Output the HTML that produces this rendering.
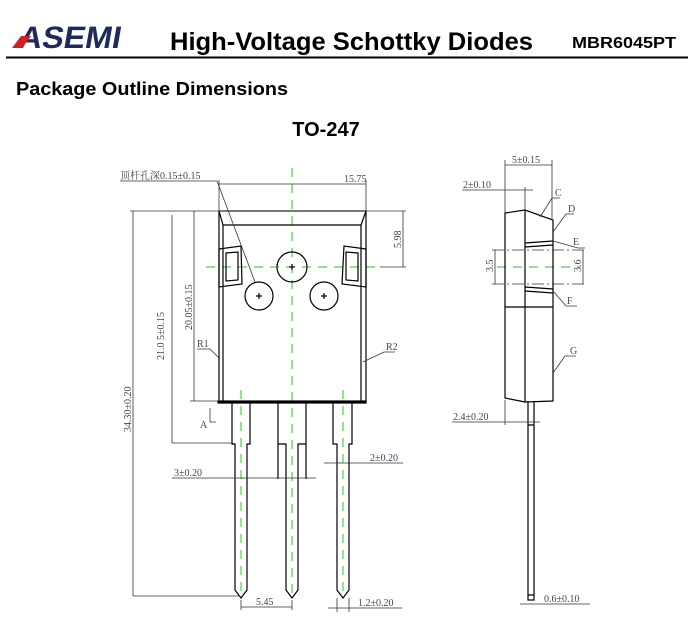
<!DOCTYPE html>
<html><head><meta charset="utf-8"><style>
body{margin:0;background:#fff;width:700px;height:642px;overflow:hidden}
svg{display:block}
.h{font-family:"Liberation Sans",Arial,sans-serif;font-weight:bold;fill:#000}
.t{font-family:"Liberation Serif","Noto Serif CJK SC",serif;font-size:10px;fill:#445}
.k{stroke:#000;stroke-width:1.2;fill:none}
.d{stroke:#333;stroke-width:0.8;fill:none}
.g{stroke:#2c2;stroke-width:1;stroke-dasharray:9 7;fill:none}
</style></head><body>
<svg width="700" height="642" viewBox="0 0 700 642" xmlns="http://www.w3.org/2000/svg">
<!-- logo -->
<text x="18" y="48" class="h" font-size="31" style="fill:#1d2b5c" textLength="102" lengthAdjust="spacingAndGlyphs" transform="skewX(-10) translate(8,0)">ASEMI</text>
<polygon points="12,48 22,48 31,36 21,36" fill="#c22"/>
<text x="170" y="50" class="h" font-size="25" textLength="363" lengthAdjust="spacingAndGlyphs">High-Voltage Schottky Diodes</text>
<text x="572" y="48" class="h" font-size="16" textLength="104" lengthAdjust="spacingAndGlyphs">MBR6045PT</text>
<rect x="6" y="56.5" width="682" height="2" fill="#000"/>
<text x="16" y="95" class="h" font-size="18" textLength="272" lengthAdjust="spacingAndGlyphs">Package Outline Dimensions</text>
<text x="326" y="136" class="h" font-size="20" text-anchor="middle">TO-247</text>

<!-- front view green -->
<line class="g" x1="292" y1="168" x2="292" y2="600"/>
<line class="g" x1="206" y1="267" x2="382" y2="267"/>
<line class="g" x1="241" y1="390" x2="241" y2="596"/>
<line class="g" x1="343" y1="390" x2="343" y2="596"/>

<!-- body -->
<rect class="k" x="219" y="211" width="147" height="191"/>
<polyline class="k" points="219,211 223,225 223,401"/>
<polyline class="k" points="366,211 361,225 361,401"/>
<line class="k" x1="223" y1="225" x2="361" y2="225"/>
<polygon class="k" points="219,249 241,246 242,284 219,287" fill="#fff"/>
<polygon class="k" points="226,253 238,252 238,280 226,281"/>
<polygon class="k" points="366,249 344,246 342,284 366,287" fill="#fff"/>
<polygon class="k" points="358,253 346,252 346,280 358,281"/>
<circle class="k" cx="292" cy="267" r="15"/>
<circle class="k" cx="259" cy="296" r="14"/>
<circle class="k" cx="324" cy="296" r="14"/>
<path class="k" d="M289,267h6M292,264v6M256,296h6M259,293v6M321,296h6M324,293v6" stroke-width="0.8"/>
<rect class="k" x="218" y="401" width="148" height="2" fill="#000"/>

<!-- leads -->
<path class="k" d="M232,403V444h3V590l6,8 6,-8V444h3V403"/>
<path class="k" d="M278,403V444h8V590l6,8 6,-8V444h8V403M278,444V479M306,444V479"/>
<path class="k" d="M333,403V444h4V590l6,8 6,-8V444h3V403"/>

<!-- dims front -->
<line class="d" x1="120" y1="181" x2="217" y2="181"/>
<line class="d" x1="217" y1="181" x2="255" y2="282"/>
<text class="t" x="120" y="179">顶杆孔深0.15±0.15</text>
<line class="d" x1="219" y1="184" x2="366" y2="184"/>
<line class="d" x1="219" y1="180" x2="219" y2="211"/>
<line class="d" x1="366" y1="180" x2="366" y2="211"/>
<text class="t" x="344" y="182">15.75</text>
<line class="d" x1="130" y1="211" x2="406" y2="211"/>
<line class="d" x1="380" y1="267" x2="406" y2="267"/>
<line class="d" x1="403" y1="211" x2="403" y2="267"/>
<text class="t" transform="translate(401,248) rotate(-90)">5.98</text>
<line class="d" x1="194" y1="211" x2="194" y2="401"/>
<line class="d" x1="190" y1="401" x2="219" y2="401"/>
<text class="t" transform="translate(192,330) rotate(-90)">20.05±0.15</text>
<line class="d" x1="172" y1="215" x2="172" y2="443"/>
<line class="d" x1="172" y1="443" x2="233" y2="443"/>
<text class="t" transform="translate(164,360) rotate(-90)">21.0 5±0.15</text>
<line class="d" x1="133" y1="211" x2="133" y2="596"/>
<line class="d" x1="133" y1="596" x2="240" y2="596"/>
<text class="t" transform="translate(131,432) rotate(-90)">34.30±0.20</text>
<text class="t" x="197" y="347">R1</text>
<polyline class="d" points="197,349 210,349 220,359"/>
<text class="t" x="386" y="350">R2</text>
<polyline class="d" points="395,352 384,352 363,362"/>
<text class="t" x="200" y="428">A</text>
<polyline class="d" points="210,408 210,422 216,422"/>
<line class="d" x1="172" y1="478" x2="316" y2="478"/>
<text class="t" x="174" y="476">3±0.20</text>
<line class="d" x1="324" y1="463" x2="403" y2="463"/>
<text class="t" x="370" y="461">2±0.20</text>
<line class="d" x1="241" y1="600" x2="241" y2="610"/>
<line class="d" x1="292" y1="600" x2="292" y2="610"/>
<line class="d" x1="241" y1="607" x2="292" y2="607"/>
<text class="t" x="256" y="605">5.45</text>
<line class="d" x1="328" y1="608" x2="402" y2="608"/>
<line class="d" x1="337" y1="598" x2="337" y2="612"/>
<line class="d" x1="349" y1="598" x2="349" y2="612"/>
<text class="t" x="358" y="606">1.2±0.20</text>

<!-- side view -->
<line class="g" x1="497" y1="267" x2="580" y2="267"/>
<path class="k" d="M505,213L525,210L553,220V401L525,402L505,398Z"/>
<line class="k" x1="525" y1="210" x2="525" y2="402"/>
<line class="k" x1="505" y1="307" x2="553" y2="307"/>
<path class="k" d="M525,243L553,241M525,247L553,245M525,287L553,289M525,291L553,293" stroke-width="0.9"/>
<path class="d" d="M492,250H585M492,284H585" stroke-dasharray="12 3 2 3"/>
<line class="d" x1="495" y1="250" x2="495" y2="284"/>
<line class="d" x1="583" y1="250" x2="583" y2="284"/>
<text class="t" transform="translate(493,272) rotate(-90)">3.5</text>
<text class="t" transform="translate(581,272) rotate(-90)">3.6</text>
<path class="k" d="M528,402V600H534V402M528,425H534M528,595H534" stroke-width="0.9"/>
<line class="d" x1="505" y1="160" x2="505" y2="213"/>
<line class="d" x1="552" y1="160" x2="552" y2="220"/>
<line class="d" x1="505" y1="165" x2="552" y2="165"/>
<text class="t" x="512" y="163">5±0.15</text>
<line class="d" x1="462" y1="190" x2="533" y2="190"/>
<line class="d" x1="525" y1="187" x2="525" y2="210"/>
<text class="t" x="463" y="188">2±0.10</text>
<polyline class="d" points="540,217 552,198 560,198"/>
<text class="t" x="555" y="196">C</text>
<polyline class="d" points="553,232 566,214 574,214"/>
<text class="t" x="568" y="212">D</text>
<polyline class="d" points="553,241 578,248 585,248"/>
<text class="t" x="573" y="245">E</text>
<polyline class="d" points="553,291 566,306 577,306"/>
<text class="t" x="567" y="304">F</text>
<polyline class="d" points="553,373 565,356 576,356"/>
<text class="t" x="570" y="354">G</text>
<line class="d" x1="452" y1="422" x2="540" y2="422"/>
<line class="d" x1="505" y1="400" x2="505" y2="425"/>
<text class="t" x="453" y="420">2.4±0.20</text>
<line class="d" x1="520" y1="604" x2="590" y2="604"/>
<text class="t" x="544" y="602">0.6±0.10</text>
</svg>
</body></html>
